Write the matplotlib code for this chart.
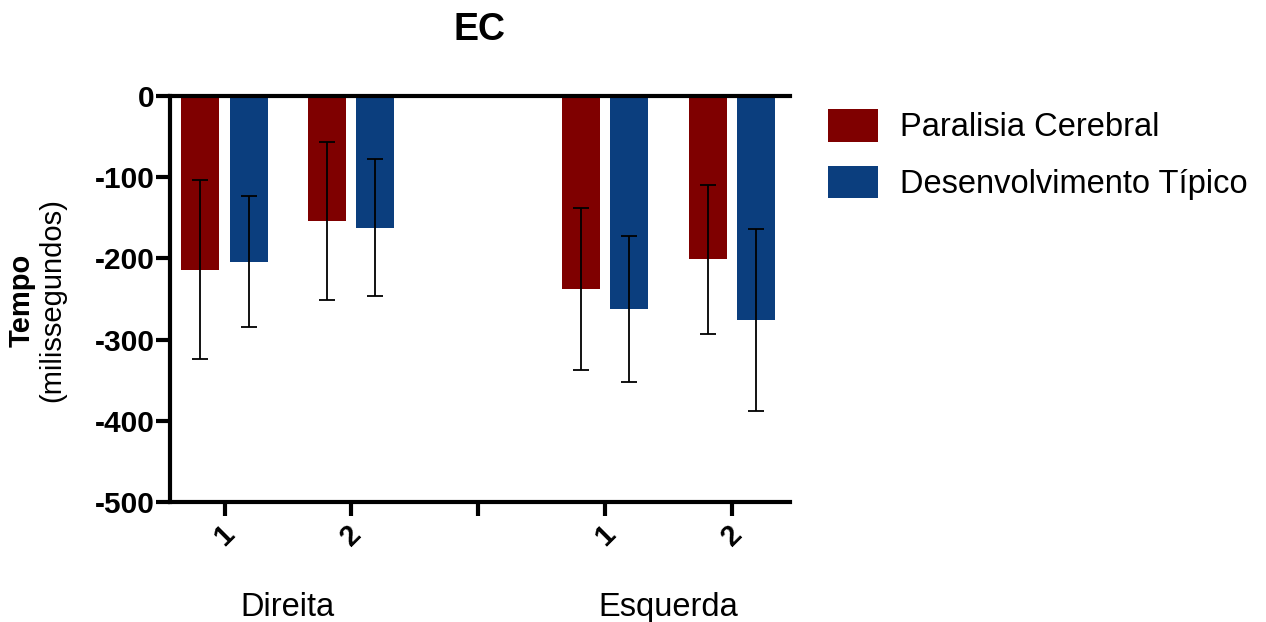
import matplotlib
matplotlib.use("Agg")
import matplotlib.pyplot as plt
import numpy as np

plt.rcParams['font.family'] = ['Liberation Sans', 'DejaVu Sans']

title = "EC"
series_names = ["Paralisia Cerebral", "Desenvolvimento Típico"]
colors = ["#7f0000", "#0b3e7e"]
positions = [0, 1, 3, 4]
tick_positions = [0, 1, 2, 3, 4]
tick_labels = ["1", "2", "", "1", "2"]
group_labels = ["Direita", "Esquerda"]
group_centers = [0.5, 3.5]

pc_mean = [-214, -154, -238, -201]
pc_sd = [110, 97, 100, 92]
dt_mean = [-204, -162, -262, -276]
dt_sd = [81, 84, 90, 112]

fig = plt.figure(figsize=(12.66, 6.22), dpi=100)
ax = fig.add_axes([170/1266, 1-502/622, 620/1266, 406/622])

w = 0.30
off = 0.19
pos = np.array(positions, dtype=float)
for means, sds, c, name, sgn in [(pc_mean, pc_sd, colors[0], series_names[0], -1),
                                 (dt_mean, dt_sd, colors[1], series_names[1], 1)]:
    ax.bar(pos + sgn*off, means, width=w, color=c, label=name, zorder=2)
    ax.errorbar(pos + sgn*off, means, yerr=sds, fmt='none', ecolor='black',
                elinewidth=1.3, capsize=6, capthick=1.3, zorder=3)

ax.set_xlim(-0.43, 4.46)
ax.set_ylim(-500, 0)
ax.set_yticks([0, -100, -200, -300, -400, -500])
ax.set_yticklabels(["0", "-100", "-200", "-300", "-400", "-500"], fontsize=21.5, fontweight='bold')
ax.set_xticks(tick_positions)
ax.set_xticklabels(tick_labels, rotation=45, fontsize=21, fontweight='bold', ha='center')

for s in ['left', 'top', 'bottom']:
    ax.spines[s].set_linewidth(3)
ax.spines['right'].set_visible(False)
ax.tick_params(axis='both', width=3, length=10, direction='out')
ax.tick_params(axis='x', pad=3)
ax.tick_params(axis='y', pad=1)

for gx, gl in zip(group_centers, group_labels):
    ax.text(gx, -0.26, gl, transform=ax.get_xaxis_transform(), ha='center', va='center', fontsize=23.5)

fig.text(480/1266, 1-30/622, title, ha='center', va='center', fontsize=27, fontweight='bold')
fig.text(22/1266, 1-300/622, "Tempo", rotation=90, ha='center', va='center', fontsize=21, fontweight='bold')
fig.text(52/1266, 1-300/622, "(milissegundos)", rotation=90, ha='center', va='center', fontsize=21)

ax.legend(loc='upper left', bbox_to_anchor=(802/1266, 1-83/622), bbox_transform=fig.transFigure,
          frameon=False, fontsize=23.5, handlelength=1.52, handleheight=1.15, labelspacing=0.68,
          handletextpad=0.67, borderpad=0.3)

fig.savefig("out.png", dpi=100)
